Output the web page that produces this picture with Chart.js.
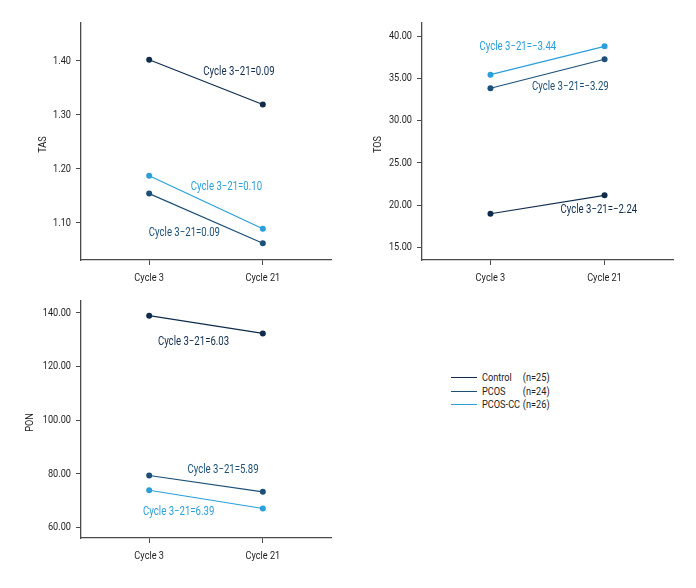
<!DOCTYPE html>
<html>
<head>
<meta charset="utf-8">
<script src="https://cdn.jsdelivr.net/npm/chart.js@4/dist/chart.umd.min.js"></script>
<style>
  body { margin: 0; background: #fff; }
  #wrap { position: relative; width: 696px; height: 588px; }
  canvas { position: absolute; }
  #legend { position: absolute; left: 451px; top: 371px; font: 11.5px Roboto, sans-serif; color: #222; }
  #legend .row { height: 13.5px; line-height: 13.5px; white-space: nowrap; }
  #legend .swatch { display: inline-block; width: 26px; border-top: 1.2px solid; vertical-align: middle; margin-right: 5px; }
  #legend .txt { display: inline-block; transform: scaleX(0.8); transform-origin: left center; }
  #legend .name { display: inline-block; width: 51px; }
</style>
</head>
<body>
<div id="wrap">
  <canvas id="tas" width="340" height="290" style="left:0;top:0"></canvas>
  <canvas id="tos" width="356" height="290" style="left:340px;top:0"></canvas>
  <canvas id="pon" width="340" height="298" style="left:0;top:290px"></canvas>
  <div id="legend"></div>
</div>
<script>
// groups and categories
var groups = ["Control", "PCOS", "PCOS-CC"];
var groupN = ["(n=25)", "(n=24)", "(n=26)"];
var colors = ["#0f2c4d", "#1c5078", "#2a9fda"];
var cycles = ["Cycle 3", "Cycle 21"];

// TAS
var tasControl = [1.402, 1.319];
var tasPcos = [1.154, 1.062];
var tasPcosCc = [1.187, 1.089];
var tasTicks = [1.1, 1.2, 1.3, 1.4];

// TOS
var tosControl = [18.97, 21.15];
var tosPcos = [33.82, 37.25];
var tosPcosCc = [35.43, 38.78];
var tosTicks = [15, 20, 25, 30, 35, 40];

// PON
var ponControl = [138.9, 132.3];
var ponPcos = [79.4, 73.3];
var ponPcosCc = [73.9, 67.1];
var ponTicks = [60, 80, 100, 120, 140];

// difference labels: text, x (cycle index), y (value), group
var tasNotes = [
  ["Cycle 3\u221221=0.09", 0.79, 1.38, 0],
  ["Cycle 3\u221221=0.10", 0.68, 1.167, 2],
  ["Cycle 3\u221221=0.09", 0.31, 1.081, 1],
];
var tosNotes = [
  ["Cycle 3\u221221=\u22123.44", 0.24, 38.7, 2],
  ["Cycle 3\u221221=\u22123.29", 0.7, 33.97, 1],
  ["Cycle 3\u221221=\u22122.24", 0.95, 19.4, 0],
];
var ponNotes = [
  ["Cycle 3\u221221=6.03", 0.39, 128.95, 0],
  ["Cycle 3\u221221=5.89", 0.65, 81.6, 1],
  ["Cycle 3\u221221=6.39", 0.26, 65.8, 2],
];

var FONT = "Roboto, sans-serif";
var SQUEEZE = 0.8; // the original uses a condensed face

function narrowText(ctx, text, x, y, rot) {
  ctx.save();
  ctx.translate(x, y);
  if (rot) ctx.rotate(rot);
  ctx.scale(SQUEEZE, 1);
  ctx.fillText(text, 0, 0);
  ctx.restore();
}

// condensed tick labels, axis title and difference notes
var textPlugin = {
  id: "texts",
  afterDraw: function (chart, args, opts) {
    var ctx = chart.ctx;
    var xs = chart.scales.x, ys = chart.scales.y, area = chart.chartArea;
    ctx.save();
    ctx.fillStyle = "#1e1e1e";
    ctx.font = "11.5px " + FONT;
    ctx.textBaseline = "middle";

    ctx.textAlign = "right";
    ys.ticks.forEach(function (t) {
      narrowText(ctx, t.value.toFixed(2), area.left - 10, ys.getPixelForValue(t.value));
    });

    ctx.textAlign = "center";
    xs.ticks.forEach(function (t) {
      narrowText(ctx, cycles[t.value], xs.getPixelForValue(t.value), area.bottom + 18.5);
    });

    narrowText(ctx, opts.title, opts.titleX, (area.top + area.bottom) / 2 + 3, -Math.PI / 2);

    ctx.font = "12px " + FONT;
    opts.items.forEach(function (n) {
      ctx.fillStyle = colors[n[3]];
      narrowText(ctx, n[0], xs.getPixelForValue(n[1]), ys.getPixelForValue(n[2]));
    });
    ctx.restore();
  },
};

function makeChart(id, series, yTicks, yMin, yMax, title, titleX, notes, pad, yWidth, xHeight) {
  var ctx = document.getElementById(id).getContext("2d");
  return new Chart(ctx, {
    type: "line",
    data: {
      datasets: series.map(function (vals, i) {
        return {
          label: groups[i],
          data: vals.map(function (v, k) {
            return { x: k, y: v };
          }),
          borderColor: colors[i],
          backgroundColor: colors[i],
          borderWidth: 1.2,
          pointRadius: 3,
          pointBorderWidth: 0,
          fill: false,
        };
      }),
    },
    plugins: [textPlugin],
    options: {
      responsive: false,
      animation: false,
      layout: { padding: pad },
      plugins: {
        legend: { display: false },
        tooltip: { enabled: false },
        texts: { items: notes, title: title, titleX: titleX },
      },
      scales: {
        x: {
          type: "linear",
          min: -0.6,
          max: 1.6,
          afterBuildTicks: function (scale) {
            scale.ticks = cycles.map(function (c, k) {
              return { value: k };
            });
          },
          afterFit: function (scale) {
            scale.height = xHeight;
          },
          ticks: { display: false },
          grid: { drawOnChartArea: false, tickLength: 5, color: "#4a4a4a" },
          border: { color: "#4a4a4a", width: 1.3 },
        },
        y: {
          min: yMin,
          max: yMax,
          afterBuildTicks: function (scale) {
            scale.ticks = yTicks.map(function (v) {
              return { value: v };
            });
          },
          afterFit: function (scale) {
            scale.width = yWidth;
          },
          ticks: { display: false },
          grid: { drawOnChartArea: false, tickLength: 5, color: "#4a4a4a" },
          border: { color: "#4a4a4a", width: 1.3 },
        },
      },
    },
  });
}

var tas = makeChart("tas", [tasControl, tasPcos, tasPcosCc], tasTicks, 1.031, 1.47, "TAS", 43, tasNotes,
  { top: 23, right: 9, bottom: 0, left: 0 }, 81, 30);
var tos = makeChart("tos", [tosControl, tosPcos, tosPcosCc], tosTicks, 13.5, 41.54, "TOS", 38, tosNotes,
  { top: 23, right: 23, bottom: 0, left: 0 }, 82, 30);
var pon = makeChart("pon", [ponControl, ponPcos, ponPcosCc], ponTicks, 56.12, 144.36, "PON", 30, ponNotes,
  { top: 11, right: 9, bottom: 0, left: 0 }, 81, 50);

// legend
var legend = document.getElementById("legend");
groups.forEach(function (g, i) {
  var row = document.createElement("div");
  row.className = "row";
  row.innerHTML = '<span class="swatch" style="border-color:' + colors[i] + '"></span>' +
    '<span class="txt"><span class="name">' + g + "</span>" + groupN[i] + "</span>";
  legend.appendChild(row);
});
</script>
</body>
</html>
